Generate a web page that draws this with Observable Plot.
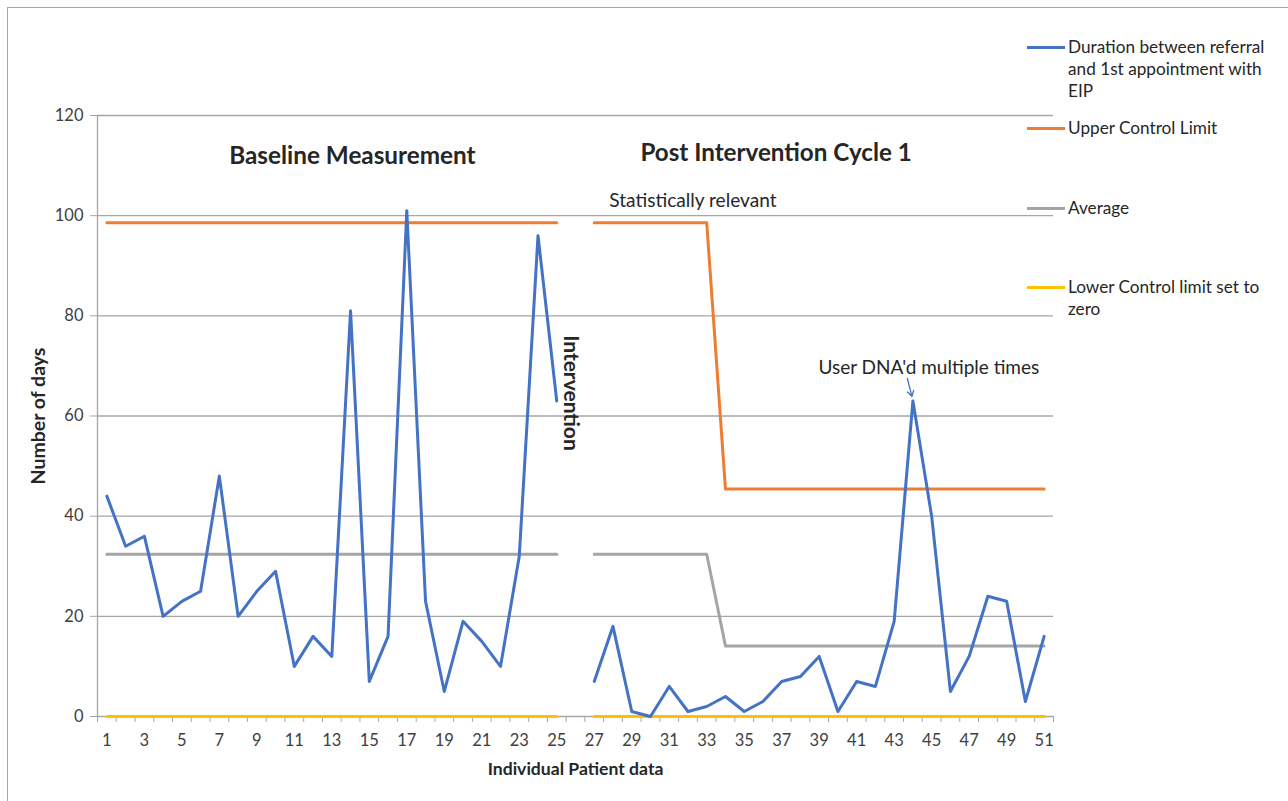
<!DOCTYPE html>
<html>
<head>
<meta charset="utf-8">
<script src="https://cdn.jsdelivr.net/npm/d3@7"></script>
<script src="https://cdn.jsdelivr.net/npm/@observablehq/plot@0.6"></script>
<style>
  html, body { margin: 0; padding: 0; background: #fff; overflow: hidden; }
  #wrap { position: relative; width: 1288px; height: 801px; font-family: Lato, "Open Sans", sans-serif; color: #262626; }
  #frame { position: absolute; left: 7px; top: 7px; width: 1300px; height: 820px; border: 1.5px solid #a6a6a6; box-sizing: border-box; }
  #chart { position: absolute; left: 0; top: 0; }
  .leg { position: absolute; left: 1027px; font-size: 17.2px; line-height: 22px; }
  .leg .sw { position: absolute; left: 0; width: 38px; height: 3px; }
  .leg .tx { position: absolute; left: 41px; width: 240px; color: #262626; white-space: nowrap; }
</style>
</head>
<body>
<div id="wrap">
  <div id="frame"></div>
  <div id="chart"></div>
  <div id="legend"></div>
</div>
<script>
// ---- Data ----
const baselinePatients = [1,2,3,4,5,6,7,8,9,10,11,12,13,14,15,16,17,18,19,20,21,22,23,24,25];
const baselineDays     = [44,34,36,20,23,25,48,20,25,29,10,16,12,81,7,16,101,23,5,19,15,10,32,96,63];
const baselineUCL      = [98.6,98.6,98.6,98.6,98.6,98.6,98.6,98.6,98.6,98.6,98.6,98.6,98.6,98.6,98.6,98.6,98.6,98.6,98.6,98.6,98.6,98.6,98.6,98.6,98.6];
const baselineAvg      = [32.4,32.4,32.4,32.4,32.4,32.4,32.4,32.4,32.4,32.4,32.4,32.4,32.4,32.4,32.4,32.4,32.4,32.4,32.4,32.4,32.4,32.4,32.4,32.4,32.4];
const baselineLCL      = [0,0,0,0,0,0,0,0,0,0,0,0,0,0,0,0,0,0,0,0,0,0,0,0,0];

const postPatients = [27,28,29,30,31,32,33,34,35,36,37,38,39,40,41,42,43,44,45,46,47,48,49,50,51];
const postDays     = [7,18,1,0,6,1,2,4,1,3,7,8,12,1,7,6,19,63,40,5,12,24,23,3,16];
const postUCL      = [98.6,98.6,98.6,98.6,98.6,98.6,98.6,45.4,45.4,45.4,45.4,45.4,45.4,45.4,45.4,45.4,45.4,45.4,45.4,45.4,45.4,45.4,45.4,45.4,45.4];
const postAvg      = [32.4,32.4,32.4,32.4,32.4,32.4,32.4,14.1,14.1,14.1,14.1,14.1,14.1,14.1,14.1,14.1,14.1,14.1,14.1,14.1,14.1,14.1,14.1,14.1,14.1];
const postLCL      = [0,0,0,0,0,0,0,0,0,0,0,0,0,0,0,0,0,0,0,0,0,0,0,0,0];

const xTickLabels = [1,3,5,7,9,11,13,15,17,19,21,23,25,27,29,31,33,35,37,39,41,43,45,47,49,51];
const yTicks = [0,20,40,60,80,100,120];

const seriesNames = ["Duration between referral and 1st appointment with EIP", "Upper Control Limit", "Average", "Lower Control limit set to zero"];
const seriesColors = ["#4472C4", "#ED7D31", "#A5A5A5", "#FFC000"];

// ---- Build table ----
function phaseRows(phase, patients, days, ucl, avg, lcl) {
  return patients.map((p, i) => ({phase, patient: p, days: days[i], ucl: ucl[i], avg: avg[i], lcl: lcl[i]}));
}
const rows = [
  ...phaseRows("baseline", baselinePatients, baselineDays, baselineUCL, baselineAvg, baselineLCL),
  ...phaseRows("post", postPatients, postDays, postUCL, postAvg, postLCL)
];
const xEdges = d3.range(0.5, 52, 1);

const font = "Lato, 'Open Sans', sans-serif";

const chart = Plot.plot({
  width: 1288,
  height: 801,
  marginLeft: 97,
  marginRight: 235,
  marginTop: 115,
  marginBottom: 85,
  style: {fontFamily: font, fontSize: "16px", background: "transparent", overflow: "visible", color: "#404040"},
  x: {type: "linear", domain: [0.5, 51.5]},
  y: {domain: [0, 120]},
  marks: [
    Plot.gridY(yTicks, {stroke: "#a6a6a6", strokeOpacity: 1, strokeWidth: 1.3}),
    Plot.ruleX([0.5], {stroke: "#a6a6a6", strokeWidth: 1.3}),
    Plot.axisY({ticks: yTicks, tickSize: 7, tickPadding: 7, stroke: "#a6a6a6", fill: "#404040", label: null, fontSize: 16.5}),
    Plot.axisX({ticks: xEdges, tickSize: 6, tickFormat: () => "", stroke: "#a6a6a6", label: null}),
    Plot.axisX({ticks: xTickLabels, tickSize: 0, tickPadding: 18, fill: "#404040", label: null, fontSize: 16.5}),
    Plot.line(rows, {x: "patient", y: "lcl", z: "phase", stroke: seriesColors[3], strokeWidth: 3}),
    Plot.line(rows, {x: "patient", y: "avg", z: "phase", stroke: seriesColors[2], strokeWidth: 3}),
    Plot.line(rows, {x: "patient", y: "ucl", z: "phase", stroke: seriesColors[1], strokeWidth: 3}),
    Plot.line(rows, {x: "patient", y: "days", z: "phase", stroke: seriesColors[0], strokeWidth: 3}),
    // annotations
    Plot.text(["Baseline Measurement"], {x: 14.1, y: 111.8, fontWeight: "bold", fontSize: 24.3, fill: "#262626"}),
    Plot.text(["Post Intervention Cycle 1"], {x: 36.7, y: 112.4, fontWeight: "bold", fontSize: 24.2, fill: "#262626"}),
    Plot.text(["Statistically relevant"], {x: 27.8, y: 103, textAnchor: "start", fontSize: 19.1, fill: "#262626"}),
    Plot.text(["Intervention"], {x: 25.75, y: 64.6, rotate: 90, fontWeight: "bold", fontSize: 21, fill: "#262626"}),
    Plot.text(["User DNA'd multiple times"], {x: 44.85, y: 69.6, fontSize: 19, fill: "#262626"}),
    Plot.arrow([{x1: 43.7, y1: 67.5, x2: 43.95, y2: 63.9}], {x1: "x1", y1: "y1", x2: "x2", y2: "y2", stroke: seriesColors[0], strokeWidth: 1.3, headLength: 9}),
    // axis titles
    Plot.text(["Number of days"], {frameAnchor: "left", textAnchor: "middle", dx: -59, rotate: -90, fontWeight: "bold", fontSize: 19.5, fill: "#262626"}),
    Plot.text(["Individual Patient data"], {frameAnchor: "bottom", textAnchor: "middle", lineAnchor: "middle", dy: 53, fontWeight: "bold", fontSize: 17.6, fill: "#262626"})
  ]
});
document.getElementById("chart").appendChild(chart);

// ---- Legend ----
const legTops = [36, 117, 197, 276];
const legTexts = [
  "Duration between referral<br>and 1st appointment with<br>EIP",
  "Upper Control Limit",
  "Average",
  "Lower Control limit set to<br>zero"
];
const legend = document.getElementById("legend");
seriesNames.forEach((name, i) => {
  const d = document.createElement("div");
  d.className = "leg";
  d.style.top = legTops[i] + "px";
  d.innerHTML = `<div class="sw" style="background:${seriesColors[i]};top:10px"></div><div class="tx">${legTexts[i]}</div>`;
  legend.appendChild(d);
});
</script>
</body>
</html>
